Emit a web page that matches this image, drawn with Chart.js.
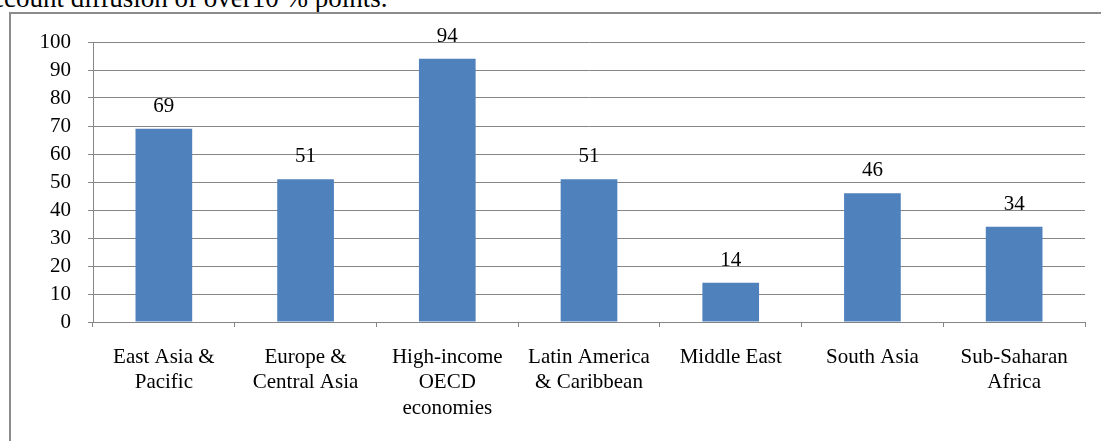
<!DOCTYPE html>
<html>
<head>
<meta charset="utf-8">
<script src="https://cdn.jsdelivr.net/npm/chart.js@4"></script>
<style>
  html, body { margin: 0; padding: 0; background: #fff; }
  body { width: 1101px; height: 441px; position: relative; overflow: hidden; }
  #caption { position: absolute; left: -8px; top: -15px; font-family: "Liberation Serif", "Times New Roman", serif; font-size: 27px; line-height: 27px; color: #000; white-space: nowrap; }
  #frame { position: absolute; left: 9px; top: 12px; width: 1100px; height: 440px; border-left: 2px solid #8c8c8c; border-top: 2px solid #8c8c8c; }
  #wrap { position: absolute; left: 0; top: 0; width: 1101px; height: 441px; }
</style>
</head>
<body>
<div id="caption">ccount diffusion of over10 % points.</div>
<div id="frame"></div>
<div id="wrap"><canvas id="c" width="1101" height="441"></canvas></div>
<script>
const categories = [
  ["East Asia &", "Pacific"],
  ["Europe &", "Central Asia"],
  ["High-income", "OECD", "economies"],
  ["Latin America", "& Caribbean"],
  ["Middle East"],
  ["South Asia"],
  ["Sub-Saharan", "Africa"]
];
const values = [69, 51, 94, 51, 14, 46, 34];
const yTicks = [0, 10, 20, 30, 40, 50, 60, 70, 80, 90, 100];

const FONT = "'Liberation Serif', 'Times New Roman', serif";
const GRID = '#868686';

const valueLabels = {
  id: 'valueLabels',
  afterDatasetsDraw(chart) {
    const ctx = chart.ctx;
    const meta = chart.getDatasetMeta(0);
    ctx.save();
    ctx.font = '21px ' + FONT;
    ctx.fillStyle = '#000';
    ctx.textAlign = 'center';
    ctx.textBaseline = 'alphabetic';
    meta.data.forEach((bar, i) => {
      ctx.fillText(String(values[i]), bar.x, bar.y - 17);
    });
    ctx.restore();
  }
};

new Chart(document.getElementById('c'), {
  type: 'bar',
  data: {
    labels: categories,
    datasets: [{
      data: values,
      backgroundColor: '#4F81BD',
      borderWidth: 0,
      barPercentage: 0.4,
      categoryPercentage: 1.0
    }]
  },
  options: {
    responsive: false,
    animation: false,
    devicePixelRatio: 1,
    layout: { padding: { left: 0, right: 16, top: 42, bottom: 0 } },
    plugins: { legend: { display: false }, tooltip: { enabled: false }, title: { display: false } },
    scales: {
      x: {
        afterFit(scale) { scale.height = 119; },
        grid: { display: true, drawOnChartArea: false, offset: true, color: GRID, tickLength: 5, tickColor: GRID },
        border: { display: true, color: GRID, width: 1 },
        ticks: { color: '#000', font: { family: FONT, size: 21, lineHeight: 1.2 }, padding: 18, maxRotation: 0, autoSkip: false }
      },
      y: {
        min: 0, max: 100,
        afterFit(scale) { scale.width = 93; },
        afterBuildTicks(scale) { scale.ticks = yTicks.map(v => ({ value: v })); },
        grid: { display: true, color: GRID, tickLength: 5, tickColor: GRID, lineWidth: 1 },
        border: { display: true, color: GRID, width: 1 },
        ticks: { color: '#000', font: { family: FONT, size: 21 }, padding: 17, autoSkip: false }
      }
    }
  },
  plugins: [valueLabels]
});
</script>
</body>
</html>
